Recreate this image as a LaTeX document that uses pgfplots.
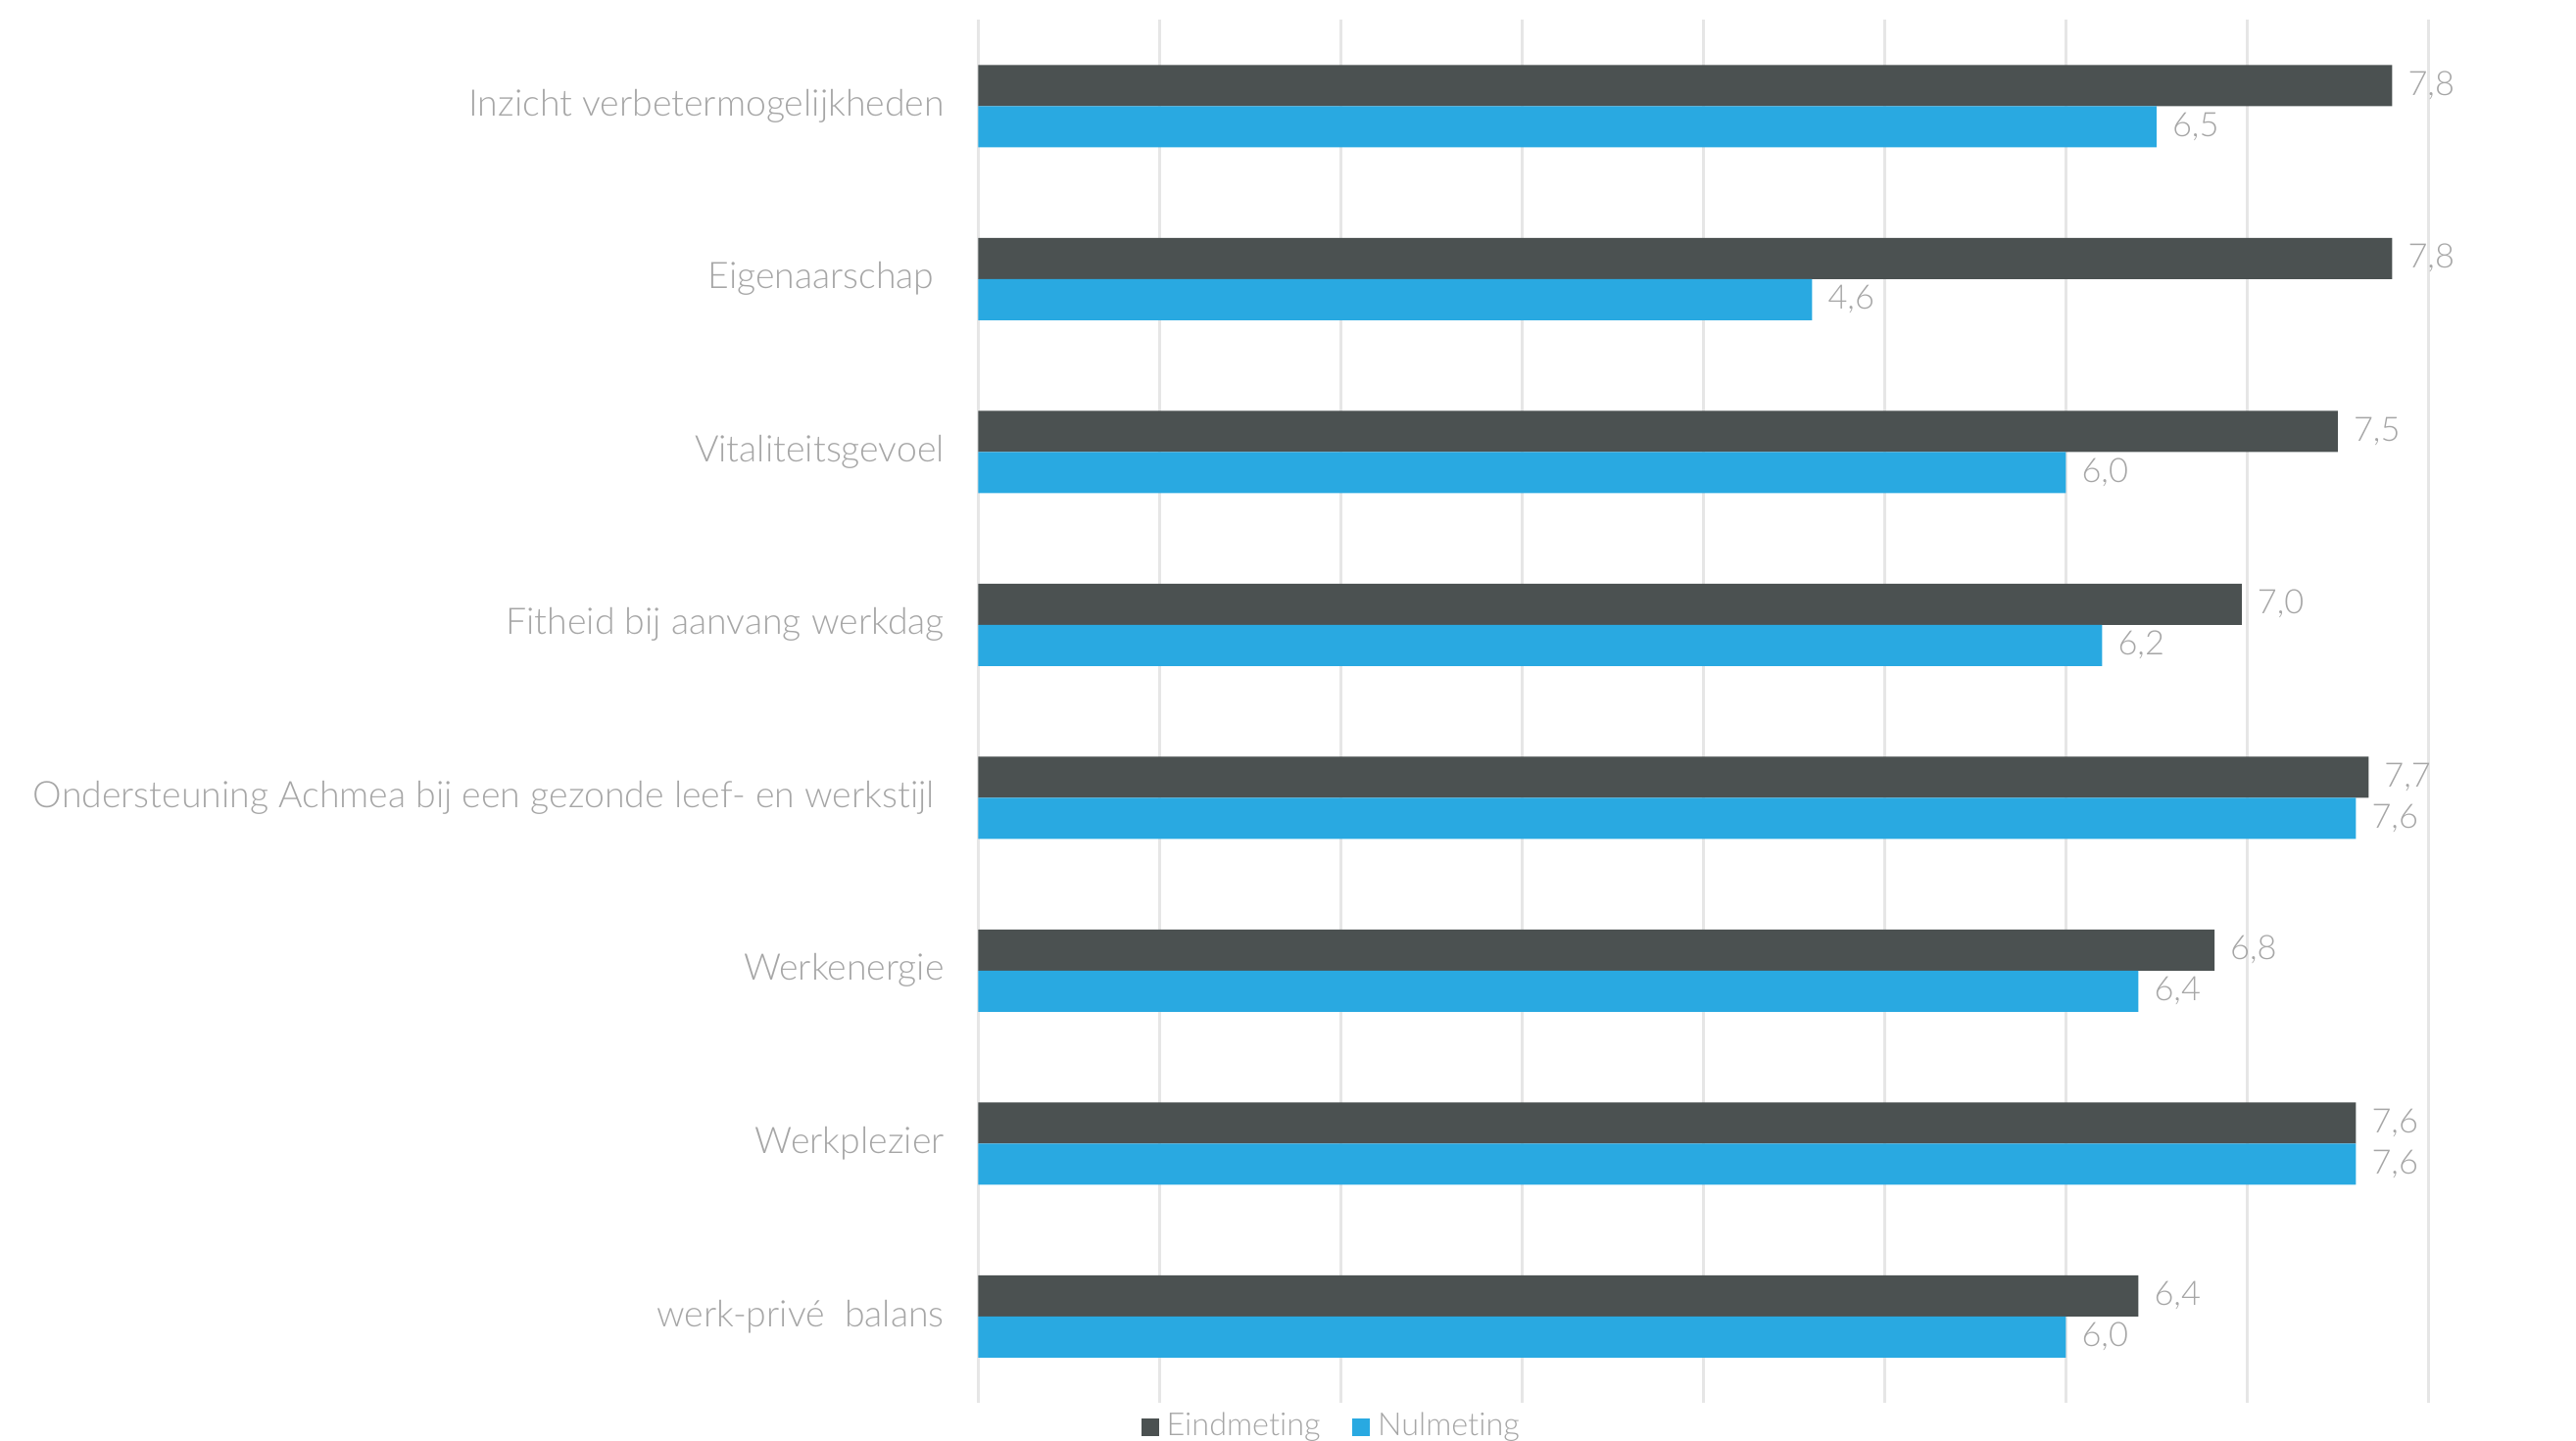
\documentclass[border=0pt]{standalone}
\usepackage{fontspec}
\setmainfont{Lato}[UprightFont={* Light}, Ligatures=NoCommon]
\usepackage{pgfplots}
\pgfplotsset{compat=1.18}
\definecolor{cdark}{HTML}{4B5151}
\definecolor{cblue}{HTML}{29A9E1}
\definecolor{ctxt}{HTML}{A6A6A6}
\definecolor{cgrid}{HTML}{E6E6E6}
\begin{document}
\begin{tikzpicture}
\begin{axis}[
  at={(0pt,0pt)}, anchor=south west,
  scale only axis, width=370pt, height=353pt,
  xbar, bar width=10.5pt,
  xmin=0, xmax=8, ymin=-0.5, ymax=7.5,
  xtick={0,...,8}, xticklabels={},
  xmajorgrids, grid style={cgrid, line width=0.6pt},
  ytick={0,...,7},
  yticklabels={werk-privé\ \ balans, Werkplezier, Werkenergie, Ondersteuning Achmea bij een gezonde leef- en werkstijl\ \ , Fitheid bij aanvang werkdag, Vitaliteitsgevoel, Eigenaarschap\ \ , Inzicht verbetermogelijkheden},
  yticklabel style={font=\fontsize{9.35}{11}\selectfont, text=ctxt, xshift=-5.15pt},
  axis line style={draw=none},
  tick style={draw=none},
  major tick length=0pt,
  clip=false,
  nodes near coords,
  nodes near coords style={font=\fontsize{8.6}{10}\selectfont, text=ctxt, xshift=0.5pt,
    /pgf/number format/.cd, fixed, fixed zerofill, precision=1, use comma, assume math mode=true},
  legend style={at={(axis description cs:0.112,-0.0175)}, anchor=west, draw=none, fill=none,
    inner sep=0pt, legend columns=2, font=\fontsize{8.1}{10}\selectfont, text=ctxt,
    /tikz/every even column/.append style={column sep=6.2pt}},
  legend image code/.code={\fill[#1] (0pt,-2.2pt) rectangle (4.4pt,2.2pt);},
]
\addplot[fill=cdark, draw=none, bar shift=5.25pt] coordinates {
  (6.4,0) (7.6,1) (6.82,2) (7.67,3) (6.97,4) (7.5,5) (7.8,6) (7.8,7)};
\addplot[fill=cblue, draw=none, bar shift=-5.25pt] coordinates {
  (6.0,0) (7.6,1) (6.4,2) (7.6,3) (6.2,4) (6.0,5) (4.6,6) (6.5,7)};
\legend{Eindmeting, Nulmeting}
\end{axis}
\pgfresetboundingbox
\path[use as bounding box] (-249.6pt,-9.5pt) rectangle (407.65pt,358pt);
\end{tikzpicture}
\end{document}
